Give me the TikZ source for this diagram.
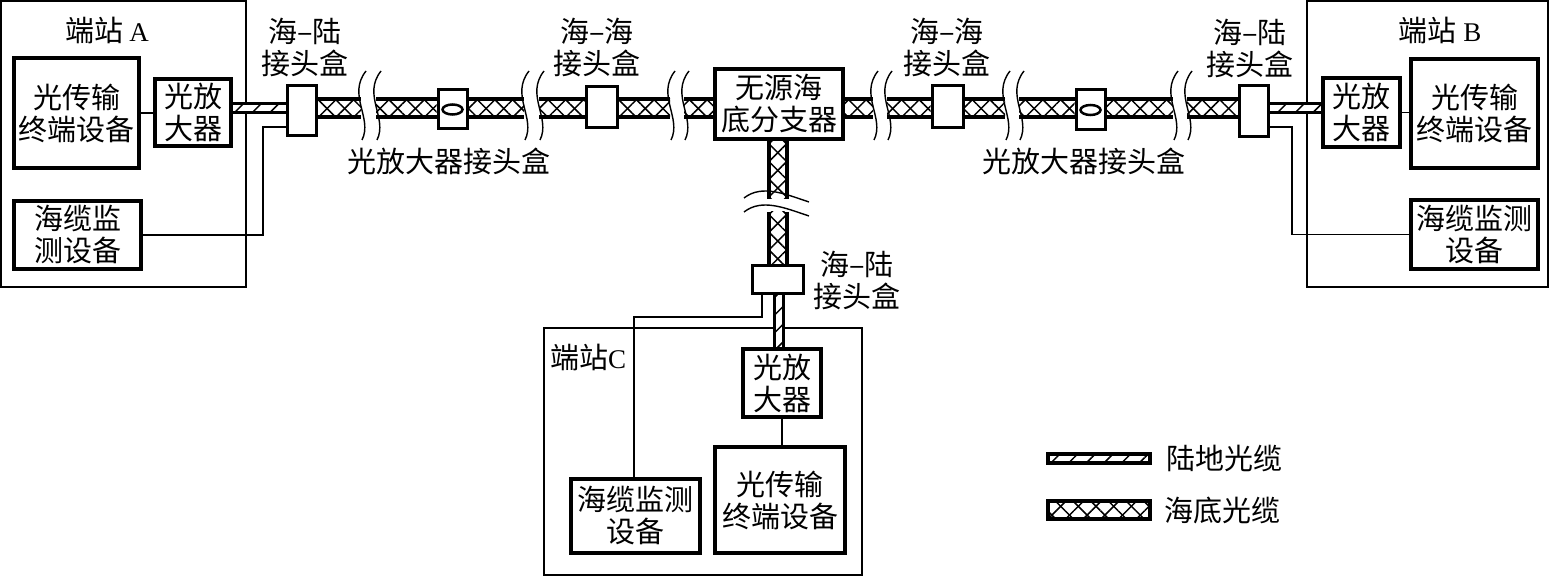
\documentclass[tikz,border=0pt]{standalone}
\usepackage{fontspec}
\usetikzlibrary{patterns.meta,calc,shapes.geometric}
\newfontfamily\cjk{Noto Sans CJK SC}
\newfontfamily\lat{Liberation Serif}
\tikzset{
  dev/.style={draw,line width=3.5pt,inner sep=0pt,align=center,fill=white,
    font=\cjk\fontsize{29}{32}\selectfont},
  jbox/.style={draw,line width=3pt,fill=white,inner sep=0pt},
  lbl/.style={align=center,inner sep=0pt,font=\cjk\fontsize{29}{32}\selectfont},
  stn/.style={line width=1.5pt},
  wire/.style={line width=1.5pt},
  brk/.style={line width=1.4pt},
  hatchA/.style={pattern={Lines[angle=45,distance=12.5pt,line width=1.5pt]}},
  hatchB/.style={pattern={Lines[angle=-45,distance=12.5pt,line width=1.5pt]}},
}
% horizontal sea cable
\newcommand\seah[2]{%
  \fill[white] ($(#1)+(0,-9.5)$) rectangle ($(#2)+(0,9.5)$);
  \fill[hatchA] ($(#1)+(0,-9.5)$) rectangle ($(#2)+(0,9.5)$);
  \fill[hatchB] ($(#1)+(0,-9.5)$) rectangle ($(#2)+(0,9.5)$);
  \draw[line width=4.5pt] ($(#1)+(0,-9)$) -- ($(#2)+(0,-9)$)
                        ($(#1)+(0,9)$) -- ($(#2)+(0,9)$);}
% vertical sea cable
\newcommand\seav[2]{%
  \fill[white] ($(#1)+(-9.5,0)$) rectangle ($(#2)+(9.5,0)$);
  \fill[hatchA] ($(#1)+(-9.5,0)$) rectangle ($(#2)+(9.5,0)$);
  \fill[hatchB] ($(#1)+(-9.5,0)$) rectangle ($(#2)+(9.5,0)$);
  \draw[line width=4.5pt] ($(#1)+(-9,0)$) -- ($(#2)+(-9,0)$)
                        ($(#1)+(9,0)$) -- ($(#2)+(9,0)$);}
% horizontal land cable
\newcommand\landh[2]{%
  \fill[white] ($(#1)+(0,-5)$) rectangle ($(#2)+(0,5)$);
  \fill[hatchA] ($(#1)+(0,-5)$) rectangle ($(#2)+(0,5)$);
  \draw[line width=3.5pt] ($(#1)+(0,-4.5)$) -- ($(#2)+(0,-4.5)$)
                        ($(#1)+(0,4.5)$) -- ($(#2)+(0,4.5)$);}
% vertical land cable
\newcommand\landv[2]{%
  \fill[white] ($(#1)+(-5,0)$) rectangle ($(#2)+(5,0)$);
  \fill[hatchA] ($(#1)+(-5,0)$) rectangle ($(#2)+(5,0)$);
  \draw[line width=3.5pt] ($(#1)+(-4.5,0)$) -- ($(#2)+(-4.5,0)$)
                        ($(#1)+(4.5,0)$) -- ($(#2)+(4.5,0)$);}
% break marks
\newcommand\hbrk[1]{\draw[brk] (#1+5,71) .. controls (#1-14,95) and (#1+12,118) .. (#1+1,140);}
\newcommand\vbrk[1]{\draw[brk] (744,#1) .. controls (762,#1-14) and (785,#1-4) .. (809,#1+4);}

\begin{document}
\begin{tikzpicture}[x=1pt,y=-1pt]
\useasboundingbox (0,0) rectangle (1550,577);

% stations
\draw[stn] (1,1) rectangle (246,287);
\draw[stn] (1307,1) rectangle (1548,287);
\draw[stn] (544,328) rectangle (862,575);

\coordinate (cy) at (0,108);
\coordinate (cx) at (778,0);
\coordinate (cxl) at (779,0);

% nodes
\node[dev,minimum width=125pt,minimum height=110pt] (Aoth) at (76.5,113) {光传输\\终端设备};
\node[dev,minimum width=76pt,minimum height=67pt] (Aamp) at (193,112.5) {光放\\大器};
\node[dev,minimum width=127pt,minimum height=68pt] (Amon) at (77.5,235) {海缆监\\测设备};
\node[jbox,minimum width=29pt,minimum height=50pt] (Asl) at (301.5,111) {};
\node[jbox,minimum width=29pt,minimum height=39pt] (Am1) at (452.5,109.5) {};
\node[jbox,minimum width=31pt,minimum height=41pt] (SS1) at (601.5,107.5) {};
\node[dev,minimum width=128pt,minimum height=70pt] (BU) at (779,104) {无源海\\底分支器};
\node[jbox,minimum width=31pt,minimum height=42pt] (SS2) at (947.5,107) {};
\node[jbox,minimum width=29pt,minimum height=40pt] (Am2) at (1090.5,110) {};
\node[jbox,minimum width=29pt,minimum height=51pt] (Bsl) at (1253.5,111.5) {};
\node[dev,minimum width=77pt,minimum height=69pt] (Bamp) at (1361.5,112.5) {光放\\大器};
\node[dev,minimum width=127pt,minimum height=109pt] (Both) at (1474.5,113.5) {光传输\\终端设备};
\node[dev,minimum width=127pt,minimum height=69pt] (Bmon) at (1474.5,234.5) {海缆监测\\设备};
\node[jbox,minimum width=51pt,minimum height=28pt] (Csl) at (777.5,280) {};
\node[dev,minimum width=78pt,minimum height=68pt] (Camp) at (782,383) {光放\\大器};
\node[dev,minimum width=130pt,minimum height=106pt] (Coth) at (780,500) {光传输\\终端设备};
\node[dev,minimum width=129pt,minimum height=74pt] (Cmon) at (635.5,516) {海缆监测\\设备};

\node[draw,ellipse,line width=2.5pt,minimum width=20pt,minimum height=10pt,inner sep=0pt] (E1) at (Am1) {};
\node[draw,ellipse,line width=2.5pt,minimum width=20pt,minimum height=10pt,inner sep=0pt] (E2) at (Am2) {};

% break coordinates
\coordinate (b1a) at (361,108); \coordinate (b1b) at (376,108);
\coordinate (b2a) at (524,108); \coordinate (b2b) at (539,108);
\coordinate (b3a) at (670,108); \coordinate (b3b) at (684,108);
\coordinate (b4a) at (873,108); \coordinate (b4b) at (887,108);
\coordinate (b5a) at (1005,108); \coordinate (b5b) at (1019,108);
\coordinate (b6a) at (1173,108); \coordinate (b6b) at (1187,108);
\coordinate (v1a) at (778,199); \coordinate (v1b) at (778,212);

% sea cables
\seah{Asl.east |- cy}{b1a}
\seah{b1b}{Am1.west |- cy}
\seah{Am1.east |- cy}{b2a}
\seah{b2b}{SS1.west |- cy}
\seah{SS1.east |- cy}{b3a}
\seah{b3b}{BU.west |- cy}
\seah{BU.east |- cy}{b4a}
\seah{b4b}{SS2.west |- cy}
\seah{SS2.east |- cy}{b5a}
\seah{b5b}{Am2.west |- cy}
\seah{Am2.east |- cy}{b6a}
\seah{b6b}{Bsl.west |- cy}
\seav{cx |- BU.south}{v1a}
\seav{v1b}{cx |- Csl.north}

% land cables
\landh{Aamp.east |- cy}{Asl.west |- cy}
\landh{Bsl.east |- cy}{Bamp.west |- cy}
\landv{cxl |- Csl.south}{cxl |- Camp.north}

% break marks
\hbrk{361}\hbrk{376}
\hbrk{524}\hbrk{539}
\hbrk{670}\hbrk{684}
\hbrk{873}\hbrk{887}
\hbrk{1005}\hbrk{1019}
\hbrk{1173}\hbrk{1187}
\vbrk{198}\vbrk{212}

% wires
\coordinate (aw) at (263,127);
\coordinate (bw) at (1292,127);
\coordinate (cw1) at (762,317);
\coordinate (cw2) at (634,317);
\draw[wire] (Aoth.east) -- (Aamp.west |- Aoth.east);
\draw[wire] (Amon.east) -| (aw) -- (Asl.west |- aw);
\draw[wire] (Bamp.east) -- (Both.west |- Bamp.east);
\draw[wire] (Bsl.east |- bw) -- (bw) |- (Bmon.west);
\draw[wire] (Csl.south -| cw1) -- (cw1) -- (cw2) -- (cw2 |- Cmon.north);
\draw[wire] (Camp.south) -- (Coth.north -| Camp.south);

% labels
\node[lbl] (lA) at (107,30) {端站 {\lat\fontsize{27}{32}\selectfont A}};
\node[lbl] (lB) at (1440,30) {端站 {\lat\fontsize{27}{32}\selectfont B}};
\node[lbl] (lC) at (588,357) {端站{\lat\fontsize{27}{32}\selectfont C}};
\node[lbl] (tAsl) at (305,47) {海–陆\\接头盒};
\node[lbl] (tSS1) at (597,47) {海–海\\接头盒};
\node[lbl] (tSS2) at (947,47) {海–海\\接头盒};
\node[lbl] (tBsl) at (1250,48) {海–陆\\接头盒};
\node[lbl] (tAm1) at (449,161) {光放大器接头盒};
\node[lbl] (tAm2) at (1084,161) {光放大器接头盒};
\node[lbl] (tCsl) at (857,280) {海–陆\\接头盒};

% legend
\coordinate (lg1a) at (1048,458.5); \coordinate (lg1b) at (1150,458.5);
\coordinate (lg2a) at (1048,510); \coordinate (lg2b) at (1150,510);
\landh{lg1a}{lg1b}
\draw[line width=3.5pt] (1048,454) rectangle (1150,463);
\seah{lg2a}{lg2b}
\draw[line width=4pt] (1048,501) rectangle (1150,519);
\node[lbl,anchor=west] (lg1t) at (1166,458) {陆地光缆};
\node[lbl,anchor=west] (lg2t) at (1164,510) {海底光缆};
\end{tikzpicture}
\end{document}
